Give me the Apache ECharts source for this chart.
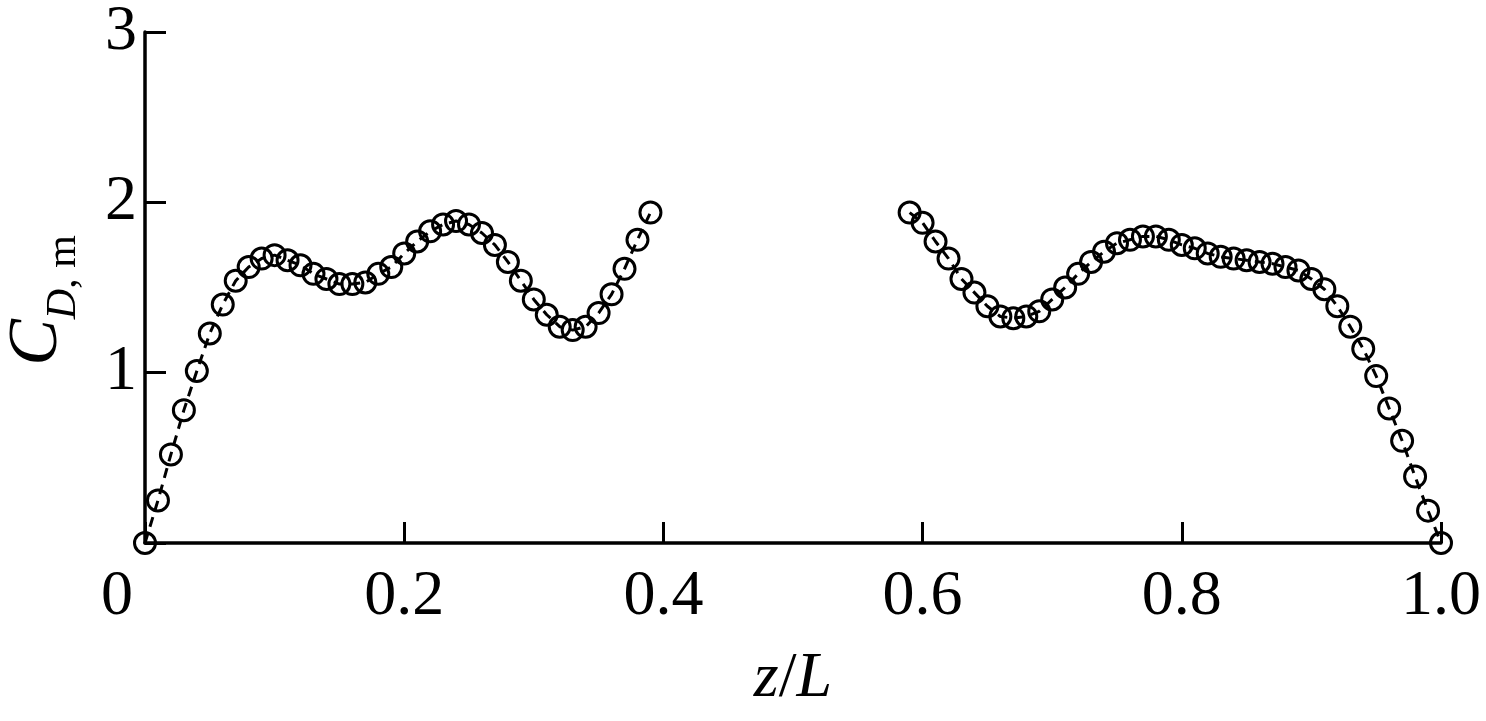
<!DOCTYPE html>
<html>
<head>
<meta charset="utf-8">
<script src="https://cdn.jsdelivr.net/npm/echarts@6/dist/echarts.min.js"></script>
<style>
html,body{margin:0;padding:0;background:#fff;}
#chart{width:1486px;height:721px;}
</style>
</head>
<body>
<div id="chart"></div>
<script>
// z/L positions and drag coefficient values (left and right branches)
var xLeft = [0.00,0.01,0.02,0.03,0.04,0.05,0.06,0.07,0.08,0.09,0.10,0.11,0.12,0.13,0.14,0.15,0.16,0.17,0.18,0.19,
             0.20,0.21,0.22,0.23,0.24,0.25,0.26,0.27,0.28,0.29,0.30,0.31,0.32,0.33,0.34,0.35,0.36,0.37,0.38,0.39];
var yLeft = [0.00,0.25,0.52,0.78,1.01,1.23,1.40,1.54,1.62,1.67,1.69,1.66,1.63,1.58,1.55,1.52,1.52,1.53,1.58,1.62,
             1.70,1.77,1.83,1.87,1.89,1.87,1.82,1.75,1.65,1.54,1.43,1.34,1.27,1.25,1.27,1.35,1.46,1.61,1.78,1.94];
var xRight = [0.59,0.60,0.61,0.62,0.63,0.64,0.65,0.66,0.67,0.68,0.69,0.70,0.71,0.72,0.73,0.74,0.75,0.76,0.77,0.78,0.79,
              0.80,0.81,0.82,0.83,0.84,0.85,0.86,0.87,0.88,0.89,0.90,0.91,0.92,0.93,0.94,0.95,0.96,0.97,0.98,0.99,1.00];
var yRight = [1.94,1.88,1.77,1.67,1.55,1.47,1.39,1.33,1.32,1.33,1.36,1.43,1.50,1.58,1.65,1.71,1.76,1.78,1.80,1.80,1.78,
              1.75,1.73,1.70,1.68,1.67,1.66,1.65,1.64,1.62,1.60,1.55,1.49,1.39,1.27,1.14,0.98,0.79,0.60,0.39,0.19,0.00];
var xTickLabels = ['0','0.2','0.4','0.6','0.8','1.0'];
var yTickLabels = ['','1','2','3'];

var SERIF = "'Liberation Serif','Times New Roman',serif";

function pairs(xs, ys){ return xs.map(function(x,i){ return [x, ys[i]]; }); }

var seriesStyle = {
  type: 'line',
  symbol: 'circle',
  symbolSize: 21,
  clip: false,
  itemStyle: { color: 'rgba(0,0,0,0)', borderColor: '#000', borderWidth: 3 },
  lineStyle: { color: '#000', width: 3, type: [10, 7] },
  emphasis: { disabled: true },
  animation: false
};

var chart = echarts.init(document.getElementById('chart'), null, {renderer: 'canvas'});
chart.setOption({
  backgroundColor: '#fff',
  animation: false,
  grid: { left: 145, right: 45, top: 32, bottom: 178, containLabel: false, outerBoundsMode: 'none' },
  xAxis: {
    type: 'value', min: 0, max: 1, interval: 0.2,
    axisLine: { show: true, onZero: false, lineStyle: { color: '#000', width: 3.5 } },
    axisTick: { show: true, inside: true, length: 21, lineStyle: { color: '#000', width: 3 } },
    splitLine: { show: false },
    axisLabel: {
      margin: 22, color: '#000', fontFamily: SERIF, fontSize: 64,
      formatter: function(v){
        var idx = Math.round(v / 0.2);
        var t = xTickLabels[idx];
        return idx === 0 ? '{z|' + t + '}' : t;
      },
      rich: { z: { fontFamily: SERIF, fontSize: 64, color: '#000', padding: [0, 56, 0, 0] } }
    },
    name: '{i|z}{s|/}{i|L}',
    nameLocation: 'middle',
    nameGap: 104,
    nameTextStyle: {
      rich: {
        i: { fontFamily: SERIF, fontStyle: 'italic', fontSize: 64, color: '#000' },
        s: { fontFamily: SERIF, fontSize: 64, color: '#000' }
      }
    }
  },
  yAxis: {
    type: 'value', min: 0, max: 3, interval: 1,
    axisLine: { show: true, onZero: false, lineStyle: { color: '#000', width: 3.5 } },
    axisTick: { show: true, inside: true, length: 21, lineStyle: { color: '#000', width: 3 } },
    splitLine: { show: false },
    axisLabel: {
      margin: 8, color: '#000', fontFamily: SERIF, fontSize: 64,
      formatter: function(v){ return yTickLabels[Math.round(v)]; }
    },
    name: '{c|C}{d|D}{m|, m}',
    nameLocation: 'middle',
    nameRotate: 90,
    nameGap: 60,
    nameTextStyle: {
      rich: {
        c: { fontFamily: SERIF, fontStyle: 'italic', fontSize: 70, color: '#000', verticalAlign: 'middle' },
        d: { fontFamily: SERIF, fontStyle: 'italic', fontSize: 42, color: '#000', verticalAlign: 'bottom', padding: [52, 0, 0, 0] },
        m: { fontFamily: SERIF, fontSize: 42, color: '#000', verticalAlign: 'bottom', padding: [52, 26, 0, 0] }
      }
    }
  },
  series: [
    Object.assign({ data: pairs(xLeft, yLeft) }, seriesStyle),
    Object.assign({ data: pairs(xRight, yRight) }, seriesStyle)
  ]
});
</script>
</body>
</html>
